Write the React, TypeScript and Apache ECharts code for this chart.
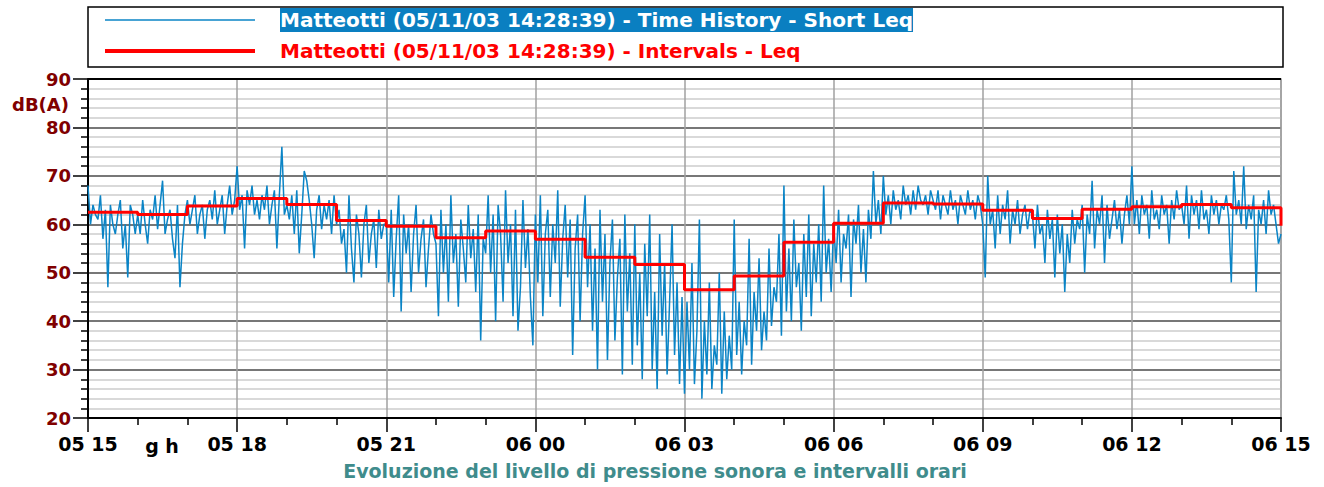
import React, { useEffect, useRef } from "react";
import * as echarts from "echarts";

// Hour offsets (0 = 05 15:00) for tick labels every 3 hours
const tickLabels = ["05 15", "05 18", "05 21", "06 00", "06 03", "06 06", "06 09", "06 12", "06 15"];

const seriesShortName = "Matteotti (05/11/03 14:28:39) - Time History - Short Leq";
const seriesLeqName = "Matteotti (05/11/03 14:28:39) - Intervals - Leq";

// Short Leq samples, one every 3 minutes (20 per hour), dB(A)
const shortLeq: number[] = [
  68,60,64,62,61,66,57,63,47,64,60,58,62,65,55,60,49,64,62,58,
  62,58,65,60,56,63,61,66,59,64,69,58,61,63,57,53,64,47,56,62,
  65,60,63,66,58,62,64,57,63,65,61,67,60,63,66,58,64,68,62,65,
  72,63,66,55,67,64,68,62,65,61,66,63,68,60,64,67,55,66,76,62,
  64,61,66,58,67,54,62,71,69,65,60,53,63,66,59,64,61,65,58,66,
  60,63,56,59,50,66,55,48,62,58,49,60,64,52,58,61,51,63,57,60,
  60,48,63,45,57,66,42,62,54,60,46,58,64,50,57,61,47,55,62,58,
  56,41,63,50,60,44,66,52,58,43,61,55,48,64,53,59,46,62,36,57,
  54,66,50,62,40,64,58,44,67,52,60,41,63,38,47,65,51,59,45,35,
  62,48,66,41,58,63,45,60,52,67,43,57,64,49,61,33,55,62,40,58,
  66,47,60,38,55,30,63,44,58,32,52,61,36,49,57,29,62,42,54,31,
  60,35,50,28,56,41,62,30,46,26,58,37,52,29,44,60,33,48,27,45,
  25,44,30,52,27,38,61,24,40,29,48,26,35,31,50,25,42,28,37,30,
  61,33,44,29,40,35,57,31,46,38,53,34,42,36,55,39,47,44,58,37,
  68,42,55,40,61,47,52,38,58,45,62,41,56,48,60,44,68,50,57,46,
  60,52,63,48,58,55,62,45,61,56,64,50,59,48,63,57,71,60,65,58,
  70,62,66,60,67,63,65,61,68,64,66,62,67,63,68,65,64,66,62,67,
  65,63,67,61,66,64,62,67,63,65,60,66,64,62,67,63,65,61,66,64,
  60,49,70,60,63,55,66,58,64,61,67,56,63,60,65,58,62,64,59,63,
  62,55,64,58,60,52,63,57,61,49,62,54,60,46,58,52,63,56,61,59,
  64,50,62,58,69,55,63,60,66,52,64,57,61,65,59,63,56,62,66,60,
  72,60,65,58,66,62,64,57,67,61,63,59,66,62,64,56,65,61,67,63,
  64,60,68,57,66,62,65,59,67,61,63,58,66,62,65,60,64,63,66,61,
  48,71,62,65,60,72,59,64,61,66,46,63,60,65,58,67,62,64,60,56,
  58,
];
const samplesPerHour = 20;

// Hourly interval Leq, dB(A), hours 15..14 next day
const intervalLeq: number[] = [
  62.5, 62.0, 63.8, 65.3, 64.1, 60.8, 59.6, 57.2, 58.6, 56.9, 53.2, 51.7,
  46.5, 49.3, 56.3, 60.2, 64.4, 64.2, 62.9, 61.2, 63.1, 63.6, 64.1, 63.4,
];
const finalLeq = 59.7;

const FONT = "DejaVu Sans";

export default function App() {
  const ref = useRef<HTMLDivElement>(null);
  useEffect(() => {
    if (!ref.current) return;
    const chart = echarts.init(ref.current, undefined, { renderer: "svg" });
    const shortData = shortLeq.map((v, i) => [i / samplesPerHour, v]);
    const leqData = intervalLeq.map((v, i) => [i, v]);
    leqData.push([intervalLeq.length, finalLeq]);

    chart.setOption({
      animation: false,
      backgroundColor: "#ffffff",
      textStyle: { fontFamily: FONT },
      grid: {
        left: 88,
        top: 79,
        width: 1193,
        height: 339,
        show: true,
        borderColor: "#999999",
        borderWidth: 1.5,
        containLabel: false,
      },
      legend: {
        orient: "vertical",
        left: 103,
        top: 8,
        itemWidth: 150,
        itemHeight: 24,
        itemGap: 9,
        selectedMode: false,
        padding: 0,
        itemStyle: { opacity: 0 },
        data: [
          { name: seriesShortName, lineStyle: { width: 1.5 } },
          { name: seriesLeqName, lineStyle: { width: 4 } },
        ],
        formatter: (name: string) =>
          name === seriesShortName ? `{s| }{b|${name}}` : `{s| }{r|${name}}`,
        textStyle: {
          fontFamily: FONT,
          fontWeight: "bold",
          fontSize: 20,
          rich: {
            s: { width: 20, fontSize: 20 },
            b: {
              color: "#ffffff",
              backgroundColor: "#0a7fc1",
              fontFamily: FONT,
              fontWeight: "bold",
              fontSize: 20,
              lineHeight: 24,
              height: 24,
            },
            r: {
              color: "#ff0000",
              fontFamily: FONT,
              fontWeight: "bold",
              fontSize: 20,
              lineHeight: 24,
            },
          },
        },
      },
      xAxis: {
        type: "value",
        min: 0,
        max: 24,
        interval: 3,
        axisLine: { show: true, onZero: false, lineStyle: { color: "#000", width: 2 } },
        axisTick: { show: true, length: 14, lineStyle: { color: "#000", width: 1.5 } },
        minorTick: { show: true, splitNumber: 3, length: 7, lineStyle: { color: "#000", width: 1.5 } },
        splitLine: { show: true, lineStyle: { color: "#a0a0a0", width: 1.5 } },
        axisLabel: {
          color: "#000",
          fontFamily: FONT,
          fontWeight: "bold",
          fontSize: 19,
          margin: 16,
          formatter: (v: number) => tickLabels[Math.round(v / 3)] ?? "",
        },
      },
      yAxis: {
        type: "value",
        min: 20,
        max: 90,
        interval: 10,
        axisLine: { show: true, lineStyle: { color: "#000", width: 2 } },
        axisTick: { show: true, length: 15, lineStyle: { color: "#000", width: 1.5 } },
        minorTick: { show: true, splitNumber: 5, length: 7, lineStyle: { color: "#000", width: 1.5 } },
        splitLine: { show: true, lineStyle: { color: "#4a4a4a", width: 1.5 } },
        minorSplitLine: { show: true, lineStyle: { color: "#cccccc", width: 1.5 } },
        axisLabel: {
          color: "#800000",
          fontFamily: FONT,
          fontWeight: "bold",
          fontSize: 18,
          margin: 17,
        },
      },
      series: [
        {
          name: seriesShortName,
          type: "line",
          data: shortData,
          symbol: "none",
          lineStyle: { color: "#0a84c6", width: 1.5 },
          itemStyle: { color: "#0a84c6" },
          z: 2,
        },
        {
          name: seriesLeqName,
          type: "line",
          data: leqData,
          step: "end",
          symbol: "none",
          lineStyle: { color: "#ff0000", width: 3 },
          itemStyle: { color: "#ff0000" },
          z: 3,
        },
      ],
      graphic: [
        {
          type: "rect",
          shape: { x: 88, y: 7, width: 1195, height: 60 },
          style: { fill: "none", stroke: "#000", lineWidth: 1.5 },
          silent: true,
        },
        {
          type: "line",
          shape: { x1: 88, y1: 79, x2: 1281, y2: 79 },
          style: { stroke: "#000", lineWidth: 2 },
          silent: true,
          z: 10,
        },
        {
          type: "text",
          x: 69,
          y: 104,
          style: {
            text: "dB(A)",
            fill: "#800000",
            font: `bold 18px "${FONT}"`,
            textAlign: "right",
            textVerticalAlign: "middle",
          },
        },
        {
          type: "text",
          x: 162,
          y: 446,
          style: {
            text: "g h",
            fill: "#000",
            font: `bold 19px "${FONT}"`,
            textAlign: "center",
            textVerticalAlign: "middle",
          },
        },
        {
          type: "text",
          x: 655,
          y: 471,
          style: {
            text: "Evoluzione del livello di pressione sonora e intervalli orari",
            fill: "#3f8c8c",
            font: `bold 19px "${FONT}"`,
            textAlign: "center",
            textVerticalAlign: "middle",
          },
        },
      ],
    });
    return () => chart.dispose();
  }, []);
  return (
    <div
      ref={ref}
      style={{ position: "absolute", left: 0, top: 0, width: 1324, height: 487 }}
    />
  );
}
